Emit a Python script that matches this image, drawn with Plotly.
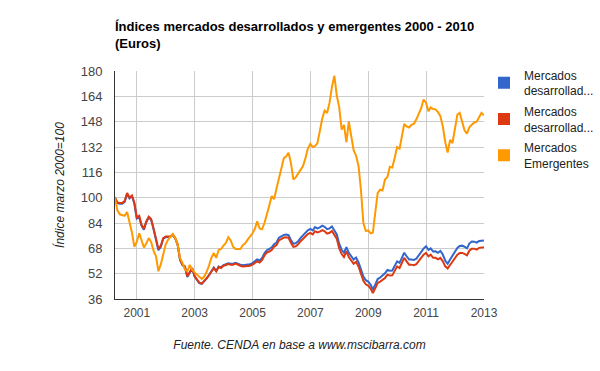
import pandas as pd
import plotly.graph_objects as go

start_month = "2000-03-01"

desarrollados_1 = [
    100, 96.5, 96.2, 96.2, 97.3, 102.5, 99.5, 100.9, 96.3, 86.8,
    87.8, 82.3, 79.7, 84.5, 87.5, 86, 80, 73.3, 66.8, 69,
    74, 75, 75.3, 75.4, 76.5, 74.3, 70.2, 60.6, 57.3, 56.2,
    49.9, 53.2, 55.3, 50.2, 47.7, 46, 45.5, 47, 48.9, 51,
    53.6, 55.8, 53.7, 56.5, 56, 57.4, 58, 58.6, 58.3, 58.3,
    58.9, 58.2, 57.7, 57.4, 57.6, 57.5, 58, 58.7, 60.1, 61,
    60.3, 61.8, 64.9, 66.8, 67.6, 68.6, 70.6, 71.7, 74.7, 75.7,
    76.5, 76.7, 76.3, 73.3, 70.8, 71.3, 72.5, 74.6, 76.2, 77.8,
    79.4, 80.3, 79.3, 81.4, 80.6, 81.2, 82.3, 81.6, 80.1, 80.6,
    81.8, 79.3, 76.8, 70.8, 67.1, 65.2, 68.7, 65.2, 63.2, 60.9,
    62.2, 59.2, 54.7, 50.2, 47.9, 47, 45, 42, 45.2, 48.6,
    49.6, 51, 52.2, 54.4, 53.9, 54, 57.1, 59.8, 58.8, 62,
    65.2, 63, 61, 61, 60.7, 61.5, 63.6, 66, 67.8, 69.3,
    67, 68, 66, 66.1, 65.2, 66.3, 64.1, 60.2, 58.3, 61,
    63.3, 66.1, 68.3, 69.5, 69.7, 69, 68, 71, 72.3, 72.2,
    71.6, 72.6, 72.7, 73,
]

desarrollados_2 = [
    100, 97, 96.7, 96.7, 97.8, 103, 100, 101.4, 97, 87.5,
    88.5, 83, 80.3, 85, 88, 86.5, 80.5, 74, 67.6, 69.7,
    74.5, 75.5, 75.6, 75.6, 76.7, 74.6, 70.5, 61, 57.7, 56.6,
    50.3, 53.5, 55.6, 50.5, 48, 46.3, 45.7, 47.2, 49, 51,
    53.5, 55.6, 53.5, 56.2, 55.6, 57, 57.5, 58.1, 57.7, 57.7,
    58.3, 57.5, 57, 56.6, 56.8, 56.6, 57, 57.7, 59, 59.8,
    59, 60.5, 63.5, 65.3, 66, 67, 69, 70, 73, 74,
    74.8, 75, 74.6, 71.5, 68.9, 69.3, 70.5, 72.5, 74, 75.5,
    77, 77.8, 76.8, 78.8, 78, 78.5, 79.5, 78.8, 77.3, 77.8,
    79, 76.5, 74, 68, 64.4, 62.5, 66, 62.5, 60.5, 58.2,
    59.5, 56.5, 52, 47.5, 45.3, 44.5, 42.5, 39.8, 42.9, 46.1,
    47, 48.2, 49.3, 51.4, 50.8, 50.9, 54, 56.6, 55.6, 58.8,
    62, 59.8, 57.7, 57.7, 57.3, 58, 60, 62.3, 64, 65.1,
    63, 64, 62, 62, 61, 62, 59.8, 56.6, 55.3, 57.5,
    59.5, 62, 64, 65, 65.1, 64.5, 63.6, 66.5, 67.8, 67.8,
    67.2, 68.3, 68.3, 68.7,
]

emergentes = [
    100, 92, 89.5, 89, 88.5, 91, 84.5, 78, 69, 72,
    77.5, 73, 68.5, 71, 74.5, 72, 66.5, 63, 53.5, 58,
    65, 70.5, 73.5, 75, 77, 74.5, 70.5, 62, 58.8, 54.5,
    53.5, 57.5, 54.5, 52.8, 51.5, 50, 48.7, 50, 53, 57,
    62, 65, 62, 67, 67.6, 69.7, 71.5, 75, 73, 69,
    67.6, 67.6, 67.6, 70, 71.2, 73.5, 75.5, 77.5, 80.5, 85,
    80.5, 80, 84, 89, 95, 101, 99, 106, 112, 120,
    125, 126, 128.4, 122, 111.5, 112.8, 115, 118, 120, 125,
    131, 134, 132, 132.5, 134.5, 142, 150, 155, 153.5, 160,
    170, 177, 164.5, 157, 143, 146, 135, 148, 140, 130,
    126.5, 120, 105, 84, 79, 79.3, 77.5, 78, 91, 103,
    105, 104.5, 111.5, 113, 119.5, 119, 125, 132, 131, 138,
    146.5, 145, 144.3, 146, 146.7, 149.5, 152.5, 156.5, 162, 160,
    154.5, 157, 156, 155.8, 154, 151.5, 145, 135, 128.5, 136.5,
    134.5, 144, 152.5, 153.5, 148.5, 142.5, 140.5, 144.5, 146, 147.5,
    148, 150.5, 153.5, 152,
]

series_names = ["Mercados<br>desarrollad...", "Mercados<br>desarrollad...", "Mercados<br>Emergentes"]
series_colors = ["#3366cc", "#dc3912", "#ff9900"]
year_ticks = ["2001", "2003", "2005", "2007", "2009", "2011", "2013"]
y_ticks = [36, 52, 68, 84, 100, 116, 132, 148, 164, 180]

dates = pd.date_range(start_month, periods=len(emergentes), freq="MS") + pd.offsets.MonthEnd(0)

fig = go.Figure()
for vals, name, color in zip([desarrollados_1, desarrollados_2, emergentes], series_names, series_colors):
    fig.add_trace(go.Scatter(x=dates, y=vals, mode="lines", line=dict(color=color, width=2),
                             showlegend=False, hoverinfo="skip"))
for i, (name, color) in enumerate(zip(series_names, series_colors)):
    fig.add_trace(go.Scatter(x=[None], y=[None], mode="markers", name=name, legendgroup=f"g{i}",
                             marker=dict(symbol="square", size=12, color=color)))

font_family = "Liberation Sans, Arial, sans-serif"
fig.update_layout(
    width=600, height=371,
    margin=dict(l=115, r=116, t=71, b=72, autoexpand=False),
    paper_bgcolor="white", plot_bgcolor="white",
    font=dict(family=font_family, size=12, color="#222"),
    title=dict(text="<b>Índices mercados desarrollados y emergentes 2000 - 2010<br>(Euros)</b>",
               x=115 / 600, xanchor="left", xref="container",
               y=1 - 31 / 371, yanchor="top", yref="container",
               pad=dict(l=0, t=0, r=0, b=0),
               font=dict(size=13, color="#000")),
    legend=dict(x=1.0, y=1.045, xanchor="left", yanchor="top", font=dict(size=12, color="#222"),
                tracegroupgap=2, itemwidth=30, bgcolor="rgba(0,0,0,0)"),
    xaxis=dict(
        range=[dates[0], "2013-01-01"],
        tickvals=[f"{y}-01-01" for y in year_ticks], ticktext=year_ticks,
        showgrid=True, gridcolor="#cccccc", gridwidth=1,
        showline=True, linecolor="#333", linewidth=1,
        ticks="outside", ticklen=3, tickcolor="rgba(0,0,0,0)",
        tickfont=dict(size=12, color="#444"),
        zeroline=False,
        title=dict(text="Fuente. CENDA en base a www.mscibarra.com", standoff=21,
                   font=dict(size=12, color="#222", style="italic")),
    ),
    yaxis=dict(
        range=[36, 180], tickvals=y_ticks,
        showgrid=True, gridcolor="#cccccc", gridwidth=1,
        showline=True, linecolor="#333", linewidth=1,
        ticks="outside", ticklen=9, tickcolor="rgba(0,0,0,0)",
        tickfont=dict(size=13, color="#444"),
        zeroline=False,
        title=dict(text="Índice marzo 2000=100", standoff=13,
                   font=dict(size=12, color="#222", style="italic")),
    ),
)

fig.write_html("out.html", config={"displayModeBar": False},
               post_script="document.body.style.margin='0';")
